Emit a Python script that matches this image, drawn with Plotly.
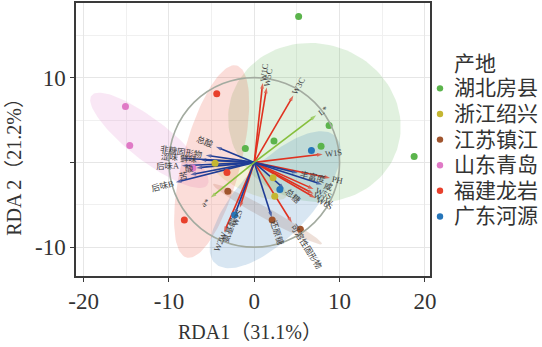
import math
import numpy as np
import plotly.graph_objects as go

# ---------------- data ----------------
groups = ["湖北房县", "浙江绍兴", "江苏镇江", "山东青岛", "福建龙岩", "广东河源"]
group_colors = ["#5bb44c", "#c4b632", "#a0552e", "#e07ac6", "#e8402c", "#2575b9"]
pts_x = [
    [5.2, 8.77, 2.31, -1.05, 7.83, 18.74],
    [-4.6, 2.2, 2.4],
    [-3.1, 2.1, 5.4],
    [-15.1, -14.6, -7.2],
    [-4.4, -3.2, -8.2],
    [6.7, -2.3, 3.0],
]
pts_y = [
    [17.2, 4.35, 2.53, 1.63, 1.90, 0.70],
    [-0.1, -1.8, -4.0],
    [-3.4, -6.8, -7.9],
    [6.6, 2.0, -0.66],
    [8.1, -1.2, -6.8],
    [1.4, -6.2, -3.2],
]
# confidence ellipses: centre, semi-axes, rotation (deg)
ell_cx = [7.05, -0.6, 1.55, -12.3, -5.0, 2.45]
ell_cy = [4.7, -2.0, -6.1, 2.6, 0.1, -4.4]
ell_a = [10.2, 4.8, 7.3, 8.6, 11.7, 10.3]
ell_b = [9.3, 1.5, 0.65, 2.4, 3.4, 4.3]
ell_ang = [-18, -25, -29, -38, 75.5, 47]

red_labels = ["W1C", "W5C", "W3C", "W1S", "PH", "W5S", "W1W", "W6S", "可溶性固形物", "W2S", "W2W"]
red_x = [0.98, 1.45, 4.58, 8.02, 8.88, 6.95, 6.95, 7.15, 4.4, -1.7, -3.55]
red_y = [9.37, 8.83, 7.9, 0.97, -1.85, -3.15, -3.7, -4.2, -7.1, -5.35, -8.25]

blue_labels = ["总酸", "非糖固形物", "鲜味", "涩味", "后味A", "酸", "苦", "后味B",
               "丰富度", "咸", "总糖", "还原糖", "氨基酸"]
blue_x = [-4.5, -5.7, -6.3, -8.5, -8.5, -6.8, -7.5, -9.2, 5.1, 7.95, 3.5, 2.05, -2.3]
blue_y = [1.85, 0.85, 0.3, 0.5, -0.4, -0.65, -1.45, -2.35, -1.25, -2.6, -3.1, -6.5, -6.2]

green_labels = ["L*", "a*"]
green_x = [7.25, -5.1]
green_y = [5.55, -4.15]

x_title = "RDA1（31.1%）"
y_title = "RDA 2（21.2%）"
legend_title = "产地"

# ---------------- figure ----------------
W, H = 542, 347
ML, MR, MT, MB = 76, 112, 1, 71
PW, PH_ = W - ML - MR, H - MT - MB
XR = [-20.9, 20.6]
YR = [-13.4, 18.8]
pxx = PW / (XR[1] - XR[0])
pxy = PH_ / (YR[1] - YR[0])

SERIF = "Liberation Serif, Noto Sans CJK SC, serif"
TXT = "#333333"


def px_x(p):  # pixel -> paper
    return (p - ML) / PW


def px_y(p):
    return ((H - MB) - p) / PH_


fig = go.Figure()


def rgba(hexc, a):
    h = hexc.lstrip("#")
    r, g, b = int(h[0:2], 16), int(h[2:4], 16), int(h[4:6], 16)
    return f"rgba({r},{g},{b},{a})"


# ellipses
t = np.linspace(0, 2 * np.pi, 120)
for i in range(len(groups)):
    th = math.radians(ell_ang[i])
    ex = ell_a[i] * np.cos(t)
    ey = ell_b[i] * np.sin(t)
    xs = ell_cx[i] + ex * math.cos(th) - ey * math.sin(th)
    ys = ell_cy[i] + ex * math.sin(th) + ey * math.cos(th)
    fig.add_trace(go.Scatter(x=xs, y=ys, mode="lines", fill="toself",
                             fillcolor=rgba(group_colors[i], 0.18),
                             line=dict(width=0), hoverinfo="skip", showlegend=False))

shapes = []
# circle (radius 10)
shapes.append(dict(type="circle", x0=-10, y0=-10, x1=10, y1=10, xref="x", yref="y",
                   line=dict(color="#a3aba0", width=1.6), layer="above"))

annots = []


def add_arrows(xs, ys, labels, color):
    for x, y, lab in zip(xs, ys, labels):
        fig.add_trace(go.Scatter(
            x=[0, x], y=[0, y], mode="lines+markers",
            line=dict(color=color, width=1.6),
            marker=dict(symbol=["circle", "arrow"], size=[0, 6], color=color,
                        angleref="previous", line=dict(width=0)),
            hoverinfo="skip", showlegend=False))
        ang = math.degrees(math.atan2(y * pxy, x * pxx))
        rd = ang
        if rd > 90:
            rd -= 180
        elif rd < -90:
            rd += 180
        fs = 8.5
        wtxt = sum(fs * (1.0 if ord(c) > 255 else 0.58) for c in lab)
        off = wtxt / 2 + 3
        ux, uy = math.cos(math.radians(ang)), math.sin(math.radians(ang))
        annots.append(dict(x=x + ux * off / pxx, y=y + uy * off / pxy, xref="x", yref="y",
                           text=lab, showarrow=False, textangle=-rd,
                           xanchor="center", yanchor="middle",
                           font=dict(family=SERIF, size=fs, color="#404040")))


add_arrows(red_x, red_y, red_labels, "#e03220")
add_arrows(blue_x, blue_y, blue_labels, "#1f3d96")
add_arrows(green_x, green_y, green_labels, "#86bf3c")

# points
for i, g in enumerate(groups):
    fig.add_trace(go.Scatter(x=pts_x[i], y=pts_y[i], mode="markers", name=g,
                             marker=dict(color=group_colors[i], size=7), showlegend=False))

# manual legend (ggplot-like spacing)
annots.append(dict(x=px_x(452), y=px_y(62), xref="paper", yref="paper", text=legend_title,
                   showarrow=False, xanchor="left", yanchor="middle",
                   font=dict(family=SERIF, size=21, color=TXT)))
for i, g in enumerate(groups):
    yy = px_y(87 + i * 25.8)
    shapes.append(dict(type="circle", xref="paper", yref="paper",
                       xsizemode="pixel", ysizemode="pixel",
                       xanchor=px_x(440), yanchor=yy, x0=-3.2, x1=3.2, y0=-3.2, y1=3.2,
                       fillcolor=group_colors[i], line=dict(width=0)))
    annots.append(dict(x=px_x(452), y=yy, xref="paper", yref="paper", text=g,
                       showarrow=False, xanchor="left", yanchor="middle",
                       font=dict(family=SERIF, size=21, color=TXT)))

# axis titles
annots.append(dict(x=px_x(250), y=px_y(332), xref="paper", yref="paper", text=x_title,
                   showarrow=False, xanchor="center", yanchor="middle",
                   font=dict(family=SERIF, size=20, color=TXT)))
annots.append(dict(x=px_x(14), y=px_y(161), xref="paper", yref="paper", text=y_title,
                   showarrow=False, textangle=-90, xanchor="center", yanchor="middle",
                   font=dict(family=SERIF, size=20, color=TXT)))

axis_common = dict(showline=True, linecolor="#3a3a3a", linewidth=1.5, mirror=True,
                   ticks="outside", ticklen=4, tickcolor="#3a3a3a", tickwidth=1,
                   showgrid=True, gridcolor="#e6e6e6", gridwidth=1, zeroline=False,
                   minor=dict(dtick=5, showgrid=True, gridcolor="#f0f0f0", gridwidth=1, ticks=""),
                   tickfont=dict(family=SERIF, size=23, color=TXT))

fig.update_layout(
    width=W, height=H,
    margin=dict(l=ML, r=MR, t=MT, b=MB),
    paper_bgcolor="white", plot_bgcolor="white",
    xaxis=dict(range=XR, tickvals=[-20, -10, 0, 10, 20], ticktext=["-20", "-10", "0", "10", "20"],
               **axis_common),
    yaxis=dict(range=YR, tickvals=[-10, 0, 10], ticktext=["-10", "", "10"], **axis_common),
    annotations=annots,
    shapes=shapes,
    showlegend=False,
)

fig.write_html("out.html")
